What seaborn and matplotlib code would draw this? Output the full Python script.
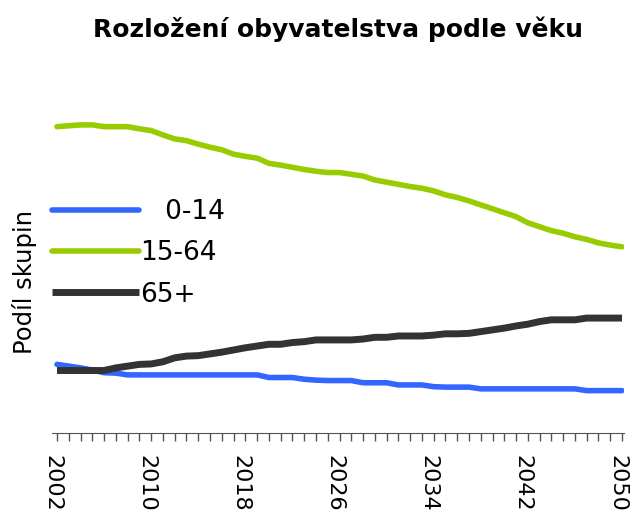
import pandas as pd
import seaborn as sns
import matplotlib.pyplot as plt
from matplotlib.transforms import ScaledTranslation

years = list(range(2002, 2051))

# podíl skupin (odhad z grafu)
age_0_14 = [15.7, 15.3, 14.9, 14.4, 13.8, 13.7, 13.3, 13.3, 13.3, 13.3,
            13.3, 13.3, 13.3, 13.3, 13.3, 13.3, 13.3, 13.3, 12.7, 12.7,
            12.7, 12.3, 12.1, 12.0, 12.0, 12.0, 11.5, 11.5, 11.5, 11.0,
            11.0, 11.0, 10.6, 10.5, 10.5, 10.5, 10.1, 10.1, 10.1, 10.1,
            10.1, 10.1, 10.1, 10.1, 10.1, 9.7, 9.7, 9.7, 9.7]
age_15_64 = [70.1, 70.3, 70.5, 70.5, 70.1, 70.1, 70.1, 69.6, 69.2, 68.2,
             67.3, 66.9, 66.1, 65.4, 64.8, 63.8, 63.3, 62.9, 61.7, 61.3,
             60.8, 60.3, 59.9, 59.6, 59.6, 59.2, 58.8, 57.9, 57.4, 56.9,
             56.4, 56.0, 55.4, 54.5, 53.9, 53.1, 52.2, 51.3, 50.4, 49.5,
             48.1, 47.2, 46.3, 45.7, 44.9, 44.3, 43.5, 43.0, 42.6]
age_65 = [14.3, 14.3, 14.3, 14.3, 14.3, 14.9, 15.3, 15.7, 15.8, 16.3,
          17.2, 17.6, 17.7, 18.1, 18.5, 19.0, 19.5, 19.9, 20.3, 20.3,
          20.7, 20.9, 21.3, 21.3, 21.3, 21.3, 21.5, 21.9, 21.9, 22.2,
          22.2, 22.2, 22.4, 22.7, 22.7, 22.8, 23.2, 23.6, 24.0, 24.5,
          24.9, 25.5, 25.9, 25.9, 25.9, 26.3, 26.3, 26.3, 26.3]
tick_years = [2002, 2010, 2018, 2026, 2034, 2042, 2050]

df = pd.DataFrame({'rok': years, '0-14': age_0_14, '15-64': age_15_64, '65+': age_65})

sns.set_style("white")
plt.rcParams['font.family'] = ['DejaVu Sans']
plt.rcParams['text.color'] = 'black'
plt.rcParams['axes.labelcolor'] = 'black'
plt.rcParams['xtick.color'] = 'black'

fig = plt.figure(figsize=(6.3, 5.15), dpi=100)
ax = fig.add_axes([52 / 630, 1 - 433 / 515, 572 / 630, 333 / 515])

sns.lineplot(x='rok', y='0-14', data=df, ax=ax, color='#3366FF', lw=4,
             label='   0-14', solid_capstyle='round')
sns.lineplot(x='rok', y='15-64', data=df, ax=ax, color='#99CC00', lw=4,
             label='15-64', solid_capstyle='round')
sns.lineplot(x='rok', y='65+', data=df, ax=ax, color='#333333', lw=5,
             label='65+', solid_capstyle='butt')

ax.set_xlim(2001.575, 2050.17)
ax.set_ylim(0, 76.2)
sns.despine(ax=ax, left=True)
ax.spines['bottom'].set_color('#555555')
ax.set_yticks([])
ax.set_xticks(tick_years)
ax.set_xticks(years, minor=True)
ax.set_xticklabels([str(y) for y in tick_years], rotation=270, fontsize=16)
ax.tick_params(axis='x', which='both', bottom=True, direction='out', length=6,
               width=1, color='#555555', pad=10)
shift = ScaledTranslation(-5 / 100, 0, fig.dpi_scale_trans)
for lbl in ax.get_xticklabels():
    lbl.set_transform(lbl.get_transform() + shift)

ax.set_xlabel('')
ax.set_ylabel('Podíl skupin', fontsize=17.5)
ax.yaxis.set_label_coords(-0.027, 0.453)
ax.set_title('Rozložení obyvatelstva podle věku', fontsize=18, fontweight='bold', pad=45)

ax.legend(loc='upper left', bbox_to_anchor=(52 / 630, 1 - 199 / 515),
          bbox_transform=fig.transFigure, frameon=False, fontsize=19,
          handlelength=3.3, handletextpad=0.05, labelspacing=0.58,
          borderpad=0, borderaxespad=0)

fig.savefig('out.png', dpi=100)
